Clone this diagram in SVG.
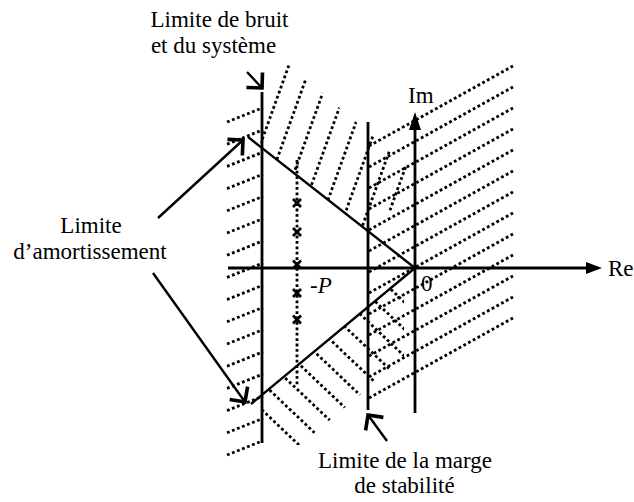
<svg xmlns="http://www.w3.org/2000/svg" width="634" height="502" viewBox="0 0 634 502">
<style>
.dot{fill:none;stroke:#000;stroke-width:2.8;stroke-dasharray:2.8 2.6}
.solid{fill:none;stroke:#000;stroke-width:2.8}
.thin{fill:none;stroke:#000;stroke-width:2.4}
.arr{fill:none;stroke:#000;stroke-width:2.4;marker-end:url(#vh)}
text{font-family:'Times New Roman',Times,Tinos,'Noto Serif','DejaVu Serif',serif;font-size:23px;fill:#000}
.pole{fill:none;stroke:#000;stroke-width:2.8}
</style>
<defs>
<marker id="vh" markerUnits="userSpaceOnUse" refX="0" refY="0" orient="auto" overflow="visible">
<path d="M-11,-11 L0,0 L-11,11" fill="none" stroke="#000" stroke-width="3.6"/>
</marker>
<clipPath id="cB"><polygon points="284,60.7 410,168 410,212 368,212 368,230.6 262,148 260,140"/></clipPath>
<clipPath id="cD"><polygon points="262,394.7 404,277 404,358 300,445 262,445"/></clipPath>
</defs>
<rect width="634" height="502" fill="#fff"/>

<g id="hatch-left" class="dot">
<path d="M227,122L263,107.6M227,144.2L263,129.8M227,166.4L263,152M227,188.6L263,174.2M227,210.8L263,196.4M227,233L263,218.6M227,255.2L263,240.8M227,277.4L263,263M227,299.6L263,285.2M227,321.8L263,307.4M227,344L263,329.6M227,366.2L263,351.8M227,388.4L263,374M227,410.6L263,396.2M227,432.8L263,418.4M227,455L263,440.6"/>
</g>
<g id="hatch-upper" class="dot" clip-path="url(#cB)">
<path d="M298,40L218.8,260M319.9,40L240.7,260M341.8,40L262.6,260M363.7,40L284.5,260M385.6,40L306.4,260M407.5,40L328.3,260M429.4,40L350.2,260M451.3,40L372.1,260"/>
</g>
<g id="hatch-lower" class="dot" clip-path="url(#cD)">
<path d="M250,398.5L420,560M250,371.5L420,533M250,344.5L420,506M250,317.5L420,479M250,290.5L420,452M250,263.5L420,425M250,236.5L420,398M250,209.5L420,371M250,182.5L420,344M250,155.5L420,317"/>
</g>
<g id="hatch-right" class="dot">
<path d="M369,146L513,66M369,167L513,87M369,188L513,108M369,209L513,129M369,230L513,150M369,251L513,171M369,272L513,192M369,293L513,213M369,314L513,234M369,335L513,255M369,356L513,276M369,377L513,297M369,398L513,318"/>
</g>
<g id="poles-line" class="dot"><path d="M297,160V385"/></g>

<g id="noise-limit"><path class="solid" d="M262,92V443"/></g>
<g id="stability-limit"><path class="solid" d="M368,122V410"/></g>
<g id="damping-limit"><path class="thin" d="M248,137L415,268L251,404"/></g>

<g id="axis-re">
<path class="solid" d="M228,268H588"/>
<polygon points="602,268 586,262 586,274" fill="#000"/>
<text x="608" y="276">Re</text>
</g>
<g id="axis-im">
<path class="solid" d="M415,413V127"/>
<polygon points="415,112 409,130 421,130" fill="#000"/>
<text x="408" y="103">Im</text>
</g>
<g id="origin"><text x="421" y="291">0</text></g>

<g id="poles">
<path class="pole" d="M293,199l8,8m0,-8l-8,8M293,228l8,8m0,-8l-8,8M293,260.5l8,8m0,-8l-8,8M293,289l8,8m0,-8l-8,8M293,315.5l8,8m0,-8l-8,8"/>
<text x="310" y="293" font-style="italic">-P</text>
</g>

<g id="connectors">
<path class="arr" d="M247,72L262,88"/>
<path class="arr" d="M158,218L243,140"/>
<path class="arr" d="M153,273L245,402"/>
<path class="arr" d="M387,441L368,415"/>
</g>

<g id="label-noise">
<text x="219.5" y="27" text-anchor="middle">Limite de bruit</text>
<text x="213.5" y="53" text-anchor="middle">et du système</text>
</g>
<g id="label-damping">
<text x="91" y="233" text-anchor="middle">Limite</text>
<text x="90" y="259" text-anchor="middle">d’amortissement</text>
</g>
<g id="label-stability">
<text x="405" y="468" text-anchor="middle">Limite de la marge</text>
<text x="404.5" y="493" text-anchor="middle">de stabilité</text>
</g>
</svg>
